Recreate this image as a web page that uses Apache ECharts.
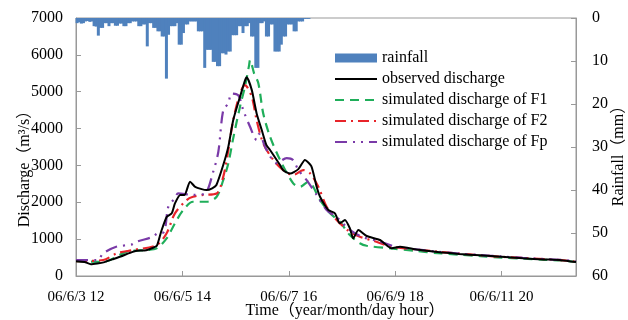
<!DOCTYPE html>
<html>
<head>
<meta charset="utf-8">
<script src="https://cdn.jsdelivr.net/npm/echarts@6/dist/echarts.min.js"></script>
<style>
  html, body { margin: 0; padding: 0; background: #fff; }
  #chart { width: 628px; height: 320px; }
</style>
</head>
<body>
<div id="chart"></div>
<script>
// x positions are hours since 06/6/3 12:00
var tickLabels = ['06/6/3 12', '06/6/5 14', '06/6/7 16', '06/6/9 18', '06/6/11 20'];

// hourly rainfall (mm), starting at hour 0
var rainfall = [
  1.2, 1.0, 1.3, 1.2, 0.8, 0.7, 0.9, 0.8, 1.9, 2.0,
  4.1, 2.3, 2.3, 1.2, 1.2, 1.9, 1.2, 1.2, 1.8, 1.8,
  1.3, 1.3, 1.9, 1.9, 1.2, 1.2, 0.8, 0.8, 0.8, 1.9,
  1.9, 1.5, 1.5, 6.6, 1.2, 1.2, 2.3, 2.3, 3.1, 3.1,
  4.3, 4.3, 14.1, 3.9, 1.9, 1.9, 1.9, 1.2, 6.2, 6.2,
  3.5, 1.5, 1.5, 0.8, 0.8, 0.8, 0.8, 3.1, 3.1, 3.1,
  11.6, 7.4, 7.4, 7.4, 10.2, 10.2, 11.2, 11.2, 8.2, 8.2,
  8.5, 7.8, 7.8, 4.0, 4.0, 4.0, 1.9, 1.9, 3.5, 1.9,
  1.9, 1.2, 4.3, 4.3, 11.6, 11.6, 1.2, 1.2, 0.8, 4.3,
  4.3, 1.5, 1.5, 7.8, 7.8, 7.8, 6.2, 4.3, 4.3, 1.5,
  1.5, 1.5, 3.1, 3.1, 0.8, 0.8, 0.8, 0.2, 0.2, 0.2
];

// [hour, discharge m3/s]
var observed = [
  [0, 400], [4, 380], [7, 320], [10, 340], [13, 370], [17, 450], [21, 530], [25, 620],
  [28, 680], [33, 700], [36, 760], [38, 820], [40, 1200], [42.6, 1600], [45, 1700],
  [46.5, 1970], [49, 2200], [51, 2200], [53.6, 2560], [56, 2420], [61.4, 2330], [64, 2380],
  [66, 2470], [69.2, 3010], [71.6, 3510], [73.9, 4230], [77.1, 4865], [79.4, 5300],
  [80.2, 5390], [82.6, 5050], [84.9, 4410], [87.3, 3960], [89.5, 3550], [91.2, 3420],
  [95.9, 3010], [97.5, 2860], [100.6, 2780], [104.5, 2900], [107.6, 3150], [110.6, 2980],
  [113.1, 2420], [114.7, 2150], [118.6, 1790], [121.7, 1700], [124, 1430], [126.4, 1520],
  [128.7, 1295], [130.3, 1020], [132.7, 1250], [136.6, 1085], [142.9, 977], [148.4, 750],
  [152.3, 795], [160, 720], [170, 650], [180, 600], [190, 560], [200, 520], [210, 480],
  [220, 450], [228, 430], [235, 380]
];
var simF1 = [
  [0, 400], [12.8, 385], [23.9, 660], [33.2, 705], [37.9, 750], [42.6, 1020], [46.5, 1430],
  [50.4, 1790], [55, 2015], [61.4, 2015], [66.1, 2150], [69.2, 2600], [71.6, 3060],
  [73.9, 3740], [77.1, 4600], [79.4, 5140], [81.3, 5700], [81.8, 5860], [83.7, 5500],
  [85.7, 5230], [88, 4410], [91.2, 3780], [95.9, 3150], [102.1, 2515], [105.3, 2420],
  [109.2, 2560], [114.7, 2060], [119.4, 1700], [124, 1475], [128.7, 1110], [133.4, 890],
  [136.6, 820], [148, 750], [160, 680], [170, 620], [180, 580], [190, 540], [200, 500],
  [210, 470], [220, 440], [228, 420], [235, 380]
];
var simF2 = [
  [0, 400], [12.8, 434], [19.2, 615], [26.9, 705], [37.9, 840], [42.6, 1160], [46.5, 1700],
  [52, 2060], [55, 2150], [59.9, 2200], [66.1, 2240], [69.2, 2690], [71.6, 3420],
  [73.9, 4230], [77.1, 4955], [79.4, 5180], [82.6, 4865], [84.9, 4230], [88, 3600],
  [92.7, 3150], [97.4, 2875], [102.1, 2740], [106.8, 2875], [110, 2785], [113.9, 2420],
  [117.8, 1880], [122.5, 1520], [128.7, 1200], [133.4, 1065], [140, 950], [148, 800],
  [160, 720], [170, 660], [180, 610], [190, 560], [200, 520], [210, 490], [220, 460],
  [228, 430], [235, 390]
];
var simFp = [
  [0, 430], [10, 430], [12.8, 615], [19.2, 800], [26, 850], [28.5, 930], [36.3, 1065],
  [38, 1150], [41.4, 1200], [43.4, 1880], [46.5, 2110], [48, 2240], [55, 2200],
  [60.6, 2240], [64.5, 2830], [66.9, 3370], [69.2, 4500], [71.6, 4685], [73, 4950],
  [76.3, 4900], [78.6, 4500], [81.8, 4050], [84.9, 3690], [86, 3850], [89.6, 3420],
  [94.3, 3060], [99, 3200], [102, 3150], [104.5, 2875], [108.4, 2600], [113.1, 2200],
  [117.8, 1790], [122.5, 1600], [128.7, 1250], [135, 1050], [142, 950], [150, 800],
  [160, 720], [170, 660], [180, 610], [190, 570], [200, 530], [210, 490], [220, 460],
  [228, 440], [235, 400]
];

var chart = echarts.init(document.getElementById('chart'));
var serif = '"Liberation Serif", "Noto Sans CJK SC", serif';
// hide the marker that echarts puts in the middle of line legend icons
var noSymbol = { color: 'rgba(0,0,0,0)', borderWidth: 0, opacity: 0 };

var option = {
  animation: false,
  textStyle: { fontFamily: serif, color: '#000' },
  grid: { left: 76, right: 52, top: 18, bottom: 44, show: true, borderColor: '#999', borderWidth: 1 },
  legend: {
    orient: 'vertical',
    left: 329,
    top: 45,
    itemWidth: 42,
    itemHeight: 9,
    itemGap: 5,
    textStyle: { fontFamily: serif, fontSize: 16, color: '#000' },
    data: [
      { name: 'rainfall', icon: 'rect' },
      { name: 'observed discharge', itemStyle: noSymbol },
      { name: 'simulated discharge of F1', itemStyle: noSymbol },
      { name: 'simulated discharge of F2', itemStyle: noSymbol },
      { name: 'simulated discharge of Fp', itemStyle: noSymbol }
    ]
  },
  xAxis: {
    type: 'value',
    min: 0,
    max: 235,
    interval: 50,
    axisLine: { lineStyle: { color: '#999' } },
    axisTick: { inside: true, length: 5, lineStyle: { color: '#999' } },
    splitLine: { show: false },
    axisLabel: {
      fontFamily: serif, fontSize: 15, color: '#000', margin: 14,
      formatter: function (v) { return tickLabels[Math.round(v / 50)] || ''; }
    }
  },
  yAxis: [
    {
      type: 'value',
      min: 0,
      max: 7000,
      interval: 1000,
      axisLine: { show: true, lineStyle: { color: '#999' } },
      axisTick: { show: true, inside: true, length: 5, lineStyle: { color: '#999' } },
      splitLine: { show: false },
      axisLabel: { fontFamily: serif, fontSize: 16, color: '#000', margin: 13, formatter: function (v) { return String(v); } }
    },
    {
      type: 'value',
      min: 0,
      max: 60,
      interval: 10,
      inverse: true,
      position: 'right',
      axisLine: { show: true, lineStyle: { color: '#999' } },
      axisTick: { show: true, inside: true, length: 5, lineStyle: { color: '#999' } },
      splitLine: { show: false },
      axisLabel: { fontFamily: serif, fontSize: 16, color: '#000', margin: 16 }
    }
  ],
  graphic: [
    {
      type: 'text', x: 25, y: 165, rotation: Math.PI / 2,
      style: { text: 'Discharge（m³/s）', font: '16px ' + serif, fill: '#000', align: 'center', verticalAlign: 'middle' }
    },
    {
      type: 'text', x: 619, y: 152, rotation: Math.PI / 2,
      style: { text: 'Rainfall（mm）', font: '16px ' + serif, fill: '#000', align: 'center', verticalAlign: 'middle' }
    },
    {
      type: 'text', x: 345, y: 311,
      style: { text: 'Time（year/month/day hour）', font: '16px ' + serif, fill: '#000', align: 'center', verticalAlign: 'middle' }
    }
  ],
  series: [
    {
      name: 'rainfall',
      type: 'bar',
      yAxisIndex: 1,
      barWidth: 3,
      itemStyle: { color: '#4f81bd' },
      data: rainfall.map(function (v, i) { return [i + 0.5, v]; })
    },
    {
      name: 'observed discharge',
      type: 'line',
      symbol: 'none',
      smooth: 0.2,
      lineStyle: { color: '#000', width: 2 },
      itemStyle: { color: '#000' },
      data: observed,
      z: 5
    },
    {
      name: 'simulated discharge of F1',
      type: 'line',
      symbol: 'none',
      smooth: 0.3,
      lineStyle: { color: '#1fae5a', width: 2.2, type: [9, 6] },
      itemStyle: { color: '#1fae5a' },
      data: simF1
    },
    {
      name: 'simulated discharge of F2',
      type: 'line',
      symbol: 'none',
      smooth: 0.3,
      lineStyle: { color: '#e8242a', width: 2.2, type: [11, 5, 2, 5] },
      itemStyle: { color: '#e8242a' },
      data: simF2
    },
    {
      name: 'simulated discharge of Fp',
      type: 'line',
      symbol: 'none',
      smooth: 0.3,
      lineStyle: { color: '#7a3aa8', width: 2.2, type: [12, 6, 2, 6, 2, 6] },
      itemStyle: { color: '#7a3aa8' },
      data: simFp
    }
  ]
};
chart.setOption(option);
</script>
</body>
</html>
